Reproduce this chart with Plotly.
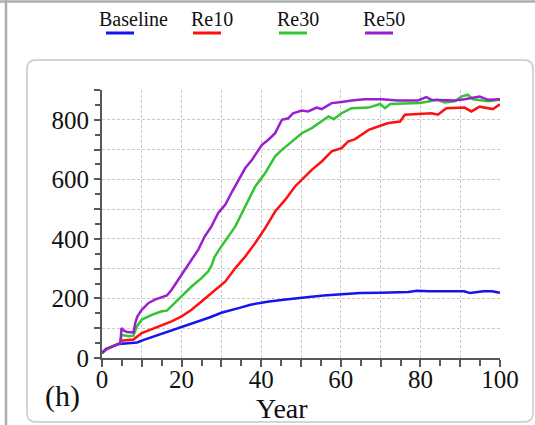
import plotly.graph_objects as go

# ---------------- data ----------------
series_names = ["Baseline", "Re10", "Re30", "Re50"]
series_colors = ["#1414f0", "#ff1010", "#33c433", "#9a1fd0"]

baseline_year = [0, 1, 2, 3, 4, 5, 6, 8, 8.8, 10.5, 12.5, 14.6, 17, 19.7, 22, 24.7, 27, 30, 33,
                 35, 37.3, 40, 42, 45.6, 49.8, 52, 55.7, 60, 64.9, 70, 74, 77, 79.1, 82, 87.5,
                 91, 92.5, 95.8, 98, 100]
baseline_value = [17, 28, 35, 40, 46, 48, 49, 50, 52, 61, 70, 78, 90, 102, 113, 126, 136, 152, 162,
                  170, 179, 186, 190, 196, 203, 205, 210, 213, 218, 219, 220, 222, 226, 224, 224,
                  224, 218, 224, 224, 219]

re10_year = [0, 1, 2, 3, 4, 4.6, 4.9, 7.9, 10, 12.5, 15, 17.5, 20, 22.5, 25, 27.5, 30, 31, 33.5,
             36, 38.5, 41, 43.5, 46, 48.5, 50.2, 52.7, 55.2, 57.7, 60.2, 61.8, 63.6, 66, 67,
             69.9, 72, 74.9, 76.1, 82.8, 84.4, 86.5, 91.1, 92.8, 94.9, 98.2, 100]
re10_value = [17, 30, 36, 42, 47, 50, 58, 62, 84, 97, 108, 123, 140, 162, 190, 218, 246, 257, 302,
              341, 386, 436, 492, 531, 576, 598, 632, 660, 694, 705, 727, 735, 755, 766,
              780, 789, 794, 817, 822, 817, 839, 841, 828, 844, 836, 852]

re30_year = [0, 1, 2, 3, 4, 4.6, 4.9, 6.7, 7.9, 8.75, 10, 12.5, 15, 16.3, 18.3, 20, 22.5, 25,
             26.7, 27.5, 28.3, 30, 31.7, 33.5, 36, 38.5, 41, 43.5, 45.2, 47.7, 50.2, 52.7,
             55.2, 56.9, 58.2, 60.2, 62.7, 66, 67, 69.9, 71.1, 72.4, 79.9, 84.4, 86.1, 88.6,
             90.3, 91.9, 93.2, 97, 100]
re30_value = [17, 30, 36, 42, 47, 50, 78, 73, 75, 106, 129, 145, 157, 159, 185, 207, 240, 268,
              291, 310, 340, 375, 408, 442, 509, 576, 621, 677, 699, 727, 755, 772,
              794, 811, 802, 822, 839, 841, 841, 853, 839, 853, 856, 867, 858, 862,
              878, 884, 869, 862, 867]

re50_year = [0, 1, 2, 3, 4, 4.6, 4.9, 5.5, 6.3, 7.9, 8.4, 8.9, 10, 11.7, 13.3, 15, 16.3, 17.5,
             19.2, 20.8, 22.5, 24.2, 25.8, 27.5, 29.2, 31, 32.7, 34.3, 36, 37.7, 39.3, 40.2,
             41.8, 43.5, 45.2, 46.8, 48, 50.2, 51.8, 53.9, 55.2, 57.7, 60.2, 62.7, 66, 70.3,
             74.4, 79.4, 81.5, 82.8, 88.6, 91.1, 94.9, 97, 100]
re50_value = [17, 30, 36, 42, 47, 50, 100, 92, 87, 86, 120, 140, 162, 185, 196, 205, 210, 229,
              263, 296, 330, 364, 408, 442, 487, 515, 559, 598, 638, 666, 699, 716,
              733, 755, 800, 805, 822, 831, 828, 841, 836, 856, 860, 865, 869, 869,
              865, 865, 876, 867, 865, 869, 878, 867, 869]

x_tick_vals = [0, 10, 20, 30, 40, 50, 60, 70, 80, 90, 100]
x_tick_text = ["0", "", "20", "", "40", "", "60", "", "80", "", "100"]
y_tick_vals = [0, 100, 200, 300, 400, 500, 600, 700, 800, 900]
y_tick_text = ["0", "", "200", "", "400", "", "600", "", "800", ""]

x_title = "Year"
panel_label = "(h)"

# ---------------- layout geometry ----------------
W, H = 535, 425
ML, MR, MT, MB = 102, 35, 90, 67
PW, PH = W - ML - MR, H - MT - MB


def px2x(px):
    return (px - ML) / PW


def py2y(py):
    return (H - MB - py) / PH


FONT = "Liberation Serif, Times New Roman, serif"

fig = go.Figure()
all_x = [baseline_year, re10_year, re30_year, re50_year]
all_y = [baseline_value, re10_value, re30_value, re50_value]
for name, color, xs, ys in zip(series_names, series_colors, all_x, all_y):
    fig.add_trace(go.Scatter(x=xs, y=ys, mode="lines", name=name,
                             line=dict(color=color, width=2.5), showlegend=False))

grid_col = "#c9c9c9"
axis_col = "#585858"
fig.update_xaxes(range=[0, 100], tickvals=x_tick_vals, ticktext=x_tick_text,
                 showgrid=True, gridcolor=grid_col, griddash="3px,2px", gridwidth=1,
                 showline=True, linecolor=axis_col, linewidth=2,
                 ticks="outside", ticklen=7, tickwidth=1.5, tickcolor=axis_col,
                 minor=dict(dtick=5, ticks="outside", ticklen=6, tickwidth=1.5,
                            tickcolor=axis_col, showgrid=False),
                 ticklabelstandoff=-9,
                 tickfont=dict(family=FONT, size=25, color="#111"), zeroline=False)
fig.update_yaxes(range=[0, 900], tickvals=y_tick_vals, ticktext=y_tick_text,
                 showgrid=True, gridcolor=grid_col, griddash="3px,2px", gridwidth=1,
                 showline=True, linecolor=axis_col, linewidth=2,
                 ticks="outside", ticklen=6, tickwidth=1.5, tickcolor=axis_col,
                 minor=dict(dtick=50, ticks="outside", ticklen=5, tickwidth=1.5,
                            tickcolor=axis_col, showgrid=False),
                 tickfont=dict(family=FONT, size=25, color="#111"), zeroline=False)

shapes = []
# rounded panel
l, r, t, b, rad = 27, 533, 60, 422, 9
path = (f"M {px2x(l + rad)},{py2y(t)} L {px2x(r - rad)},{py2y(t)} "
        f"Q {px2x(r)},{py2y(t)} {px2x(r)},{py2y(t + rad)} "
        f"L {px2x(r)},{py2y(b - rad)} Q {px2x(r)},{py2y(b)} {px2x(r - rad)},{py2y(b)} "
        f"L {px2x(l + rad)},{py2y(b)} Q {px2x(l)},{py2y(b)} {px2x(l)},{py2y(b - rad)} "
        f"L {px2x(l)},{py2y(t + rad)} Q {px2x(l)},{py2y(t)} {px2x(l + rad)},{py2y(t)} Z")
shapes.append(dict(type="path", xref="paper", yref="paper", path=path,
                   line=dict(color="#c8c8c8", width=1.5), layer="below"))
# outer frame lines
shapes.append(dict(type="line", xref="paper", yref="paper", x0=px2x(6), x1=px2x(6),
                   y0=py2y(0), y1=py2y(H), line=dict(color="#a9b0a9", width=2.5)))
shapes.append(dict(type="line", xref="paper", yref="paper", x0=px2x(0), x1=px2x(W),
                   y0=py2y(1.5), y1=py2y(1.5), line=dict(color="#a9b0a9", width=2.5)))

annotations = []
# custom legend: text with a coloured line underneath
legend_text_left = [97, 189, 275, 361]
legend_line_left = [106, 193, 279, 365]
for name, color, tx, lx in zip(series_names, series_colors, legend_text_left, legend_line_left):
    annotations.append(dict(text=name, xref="paper", yref="paper", x=px2x(tx), y=py2y(19),
                            xanchor="left", yanchor="middle", showarrow=False,
                            font=dict(family=FONT, size=20, color="#111")))
    shapes.append(dict(type="line", xref="paper", yref="paper", x0=px2x(lx), x1=px2x(lx + 28),
                       y0=py2y(33), y1=py2y(33), line=dict(color=color, width=3)))

annotations.append(dict(text=x_title, xref="paper", yref="paper", x=px2x(282), y=py2y(408),
                        xanchor="center", yanchor="middle", showarrow=False,
                        font=dict(family=FONT, size=28, color="#111")))
annotations.append(dict(text=panel_label, xref="paper", yref="paper", x=px2x(62), y=py2y(396),
                        xanchor="center", yanchor="middle", showarrow=False,
                        font=dict(family=FONT, size=30, color="#111")))

fig.update_layout(width=W, height=H, margin=dict(l=ML, r=MR, t=MT, b=MB),
                  paper_bgcolor="white", plot_bgcolor="white",
                  shapes=shapes, annotations=annotations, showlegend=False)

fig.write_html("out.html", config={"displayModeBar": False})
